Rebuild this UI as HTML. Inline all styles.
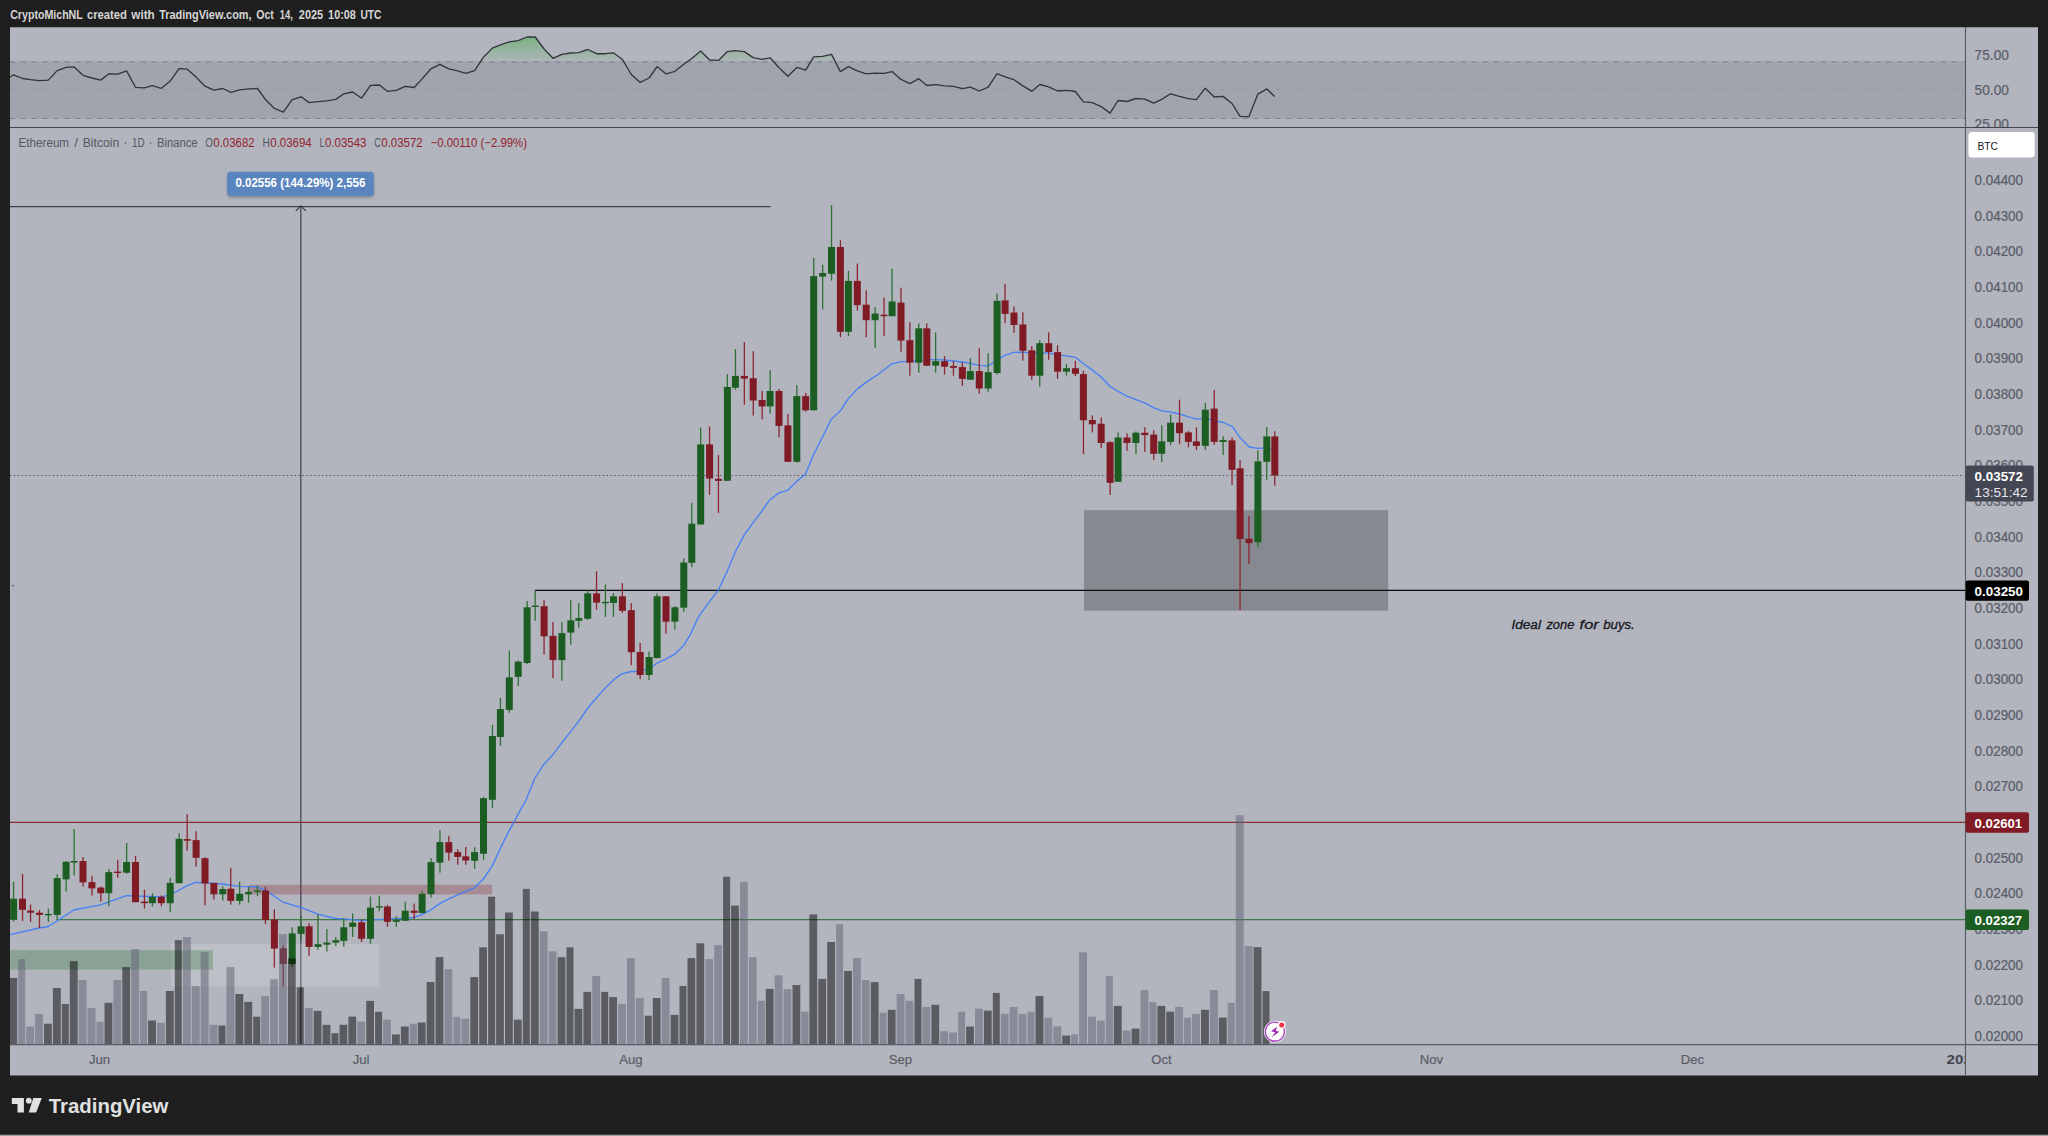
<!DOCTYPE html>
<html lang="en"><head><meta charset="utf-8"><title>ETHBTC chart</title>
<style>html,body{margin:0;padding:0;background:#1f1f1f;}body{width:2048px;height:1136px;overflow:hidden;position:relative;}svg{position:absolute;left:0;top:0;display:block;}text{font-family:"Liberation Sans", sans-serif;}</style>
</head><body>
<svg width="2048" height="1136" viewBox="0 0 2048 1136">
<defs>
<linearGradient id="rsig" x1="0" y1="0" x2="0" y2="1" gradientUnits="userSpaceOnUse" gradientTransform="translate(0,36) scale(1,26)"><stop offset="0" stop-color="#4caf50" stop-opacity="0.56"/><stop offset="1" stop-color="#4caf50" stop-opacity="0.03"/></linearGradient>
<clipPath id="rsiclip"><rect x="10" y="27" width="1955" height="34.8"/></clipPath>
<clipPath id="rsipane"><rect x="10" y="27" width="2028" height="100"/></clipPath>
<clipPath id="mainpane"><rect x="10" y="128" width="1955" height="916.5"/></clipPath>
<clipPath id="timeclip"><rect x="10" y="1045" width="1955" height="30"/></clipPath>
<filter id="sh" x="-10%" y="-30%" width="120%" height="180%"><feGaussianBlur stdDeviation="1.6"/></filter>
</defs>
<rect width="2048" height="1136" fill="#1f1f1f"/>
<rect x="0" y="1134.7" width="2048" height="1.3" fill="#a4a4a4"/>
<rect x="10" y="27" width="2028" height="1048.5" fill="#b2b5be"/>
<rect x="10" y="27" width="2028" height="0.9" fill="#80838d" opacity="0.85"/>
<g clip-path="url(#rsipane)">
<rect x="10" y="61.2" width="1955" height="57.7" fill="#a1a4ad"/>
<line x1="10" y1="62" x2="1965" y2="62" stroke="#888b9a" stroke-width="1.5" stroke-dasharray="4.7 6.21"/>
<line x1="10" y1="89.5" x2="1965" y2="89.5" stroke="#9396a5" stroke-width="0.95" stroke-dasharray="4.7 6.21"/>
<line x1="10" y1="118.5" x2="1965" y2="118.5" stroke="#7b7e8d" stroke-width="1.1" stroke-dasharray="4.7 6.21"/>
<path d="M10.2 77.1 L13.6 74.8 L22.5 78.5 L30.5 79.6 L39.4 80.6 L48.3 80.1 L57.2 70.6 L66.1 67.4 L74.1 66.9 L83 75.3 L91.9 78 L100.8 80.1 L108.8 73.8 L117.7 74.1 L126.6 70.9 L135.5 87.3 L144.4 87.8 L152.4 85.7 L161.3 88.3 L170.2 81.1 L179.1 68.7 L187.2 69.2 L196.1 77.1 L205 86.2 L213.9 90.1 L222.8 88.5 L230.8 92.4 L239.7 89.9 L248.6 88.9 L257.5 88.5 L265.5 99.6 L274.4 108.4 L283.3 112.1 L292.2 99.6 L301.1 96.8 L309.1 102.6 L318 101.7 L326.9 100.8 L335.8 99.4 L343.8 93.8 L352.7 92 L361.6 98.2 L370.5 85.4 L379.4 85 L387.4 91.3 L396.3 90.3 L405.2 86.4 L414.1 87.5 L422.1 78.9 L431 68.8 L439.9 64.3 L448.8 68.8 L457.7 70.9 L465.7 73.4 L474.6 70.6 L483.5 57.2 L492.4 48.1 L500.4 44.9 L509.3 41.9 L518.2 40.7 L527.1 37 L535.2 37 L544.1 49 L553 58.3 L561.9 54.4 L570.8 53 L578.8 52.7 L587.7 49.5 L596.6 53.7 L605.5 53.7 L613.5 52.8 L622.4 59.5 L631.3 74.5 L640.2 82.4 L649.1 78 L657.1 66.6 L666 73.9 L674.9 71.3 L683.8 64.3 L691.8 58.5 L700.7 51.1 L709.6 60 L718.5 60.4 L727.4 51.6 L735.4 50.7 L744.3 51.6 L753.2 57.6 L762.1 59.3 L770.1 57.8 L779 67.8 L787.9 76.2 L796.8 67.4 L805.7 70.1 L813.7 56.9 L822.6 56.4 L831.5 54.4 L840.4 71.6 L848.4 66.7 L857.3 70.9 L866.2 73.8 L875.1 73.1 L884 73.4 L892.1 71.6 L901 79.4 L909.9 83.6 L918.8 78.7 L926.8 85.5 L935.7 84.7 L944.6 85.9 L953.5 86.4 L962.4 88.7 L970.4 87.1 L979.3 91 L988.2 87.1 L997.1 73.6 L1005.1 76.9 L1014 79.7 L1022.9 85.9 L1031.8 91.2 L1039.8 84.5 L1048.7 86.9 L1057.6 91 L1066.5 90.3 L1075.4 91.5 L1083.4 101.9 L1092.3 102.6 L1101.2 106.6 L1110.1 113.1 L1118.1 100.5 L1127 101.5 L1135.9 98.5 L1144.8 99.1 L1153.7 103.1 L1161.7 99.4 L1170.6 93.8 L1179.5 96.4 L1188.4 98.7 L1196.4 99.6 L1205.3 88.2 L1214.2 97 L1223.1 96.4 L1232 103.5 L1240.1 116.3 L1249 116.6 L1257.9 94.1 L1266.8 88.9 L1274.6 96.6 L1274.6 61.8 L10.2 61.8 Z" fill="url(#rsig)" clip-path="url(#rsiclip)"/>
<path d="M10.2 77.1 L13.6 74.8 L22.5 78.5 L30.5 79.6 L39.4 80.6 L48.3 80.1 L57.2 70.6 L66.1 67.4 L74.1 66.9 L83 75.3 L91.9 78 L100.8 80.1 L108.8 73.8 L117.7 74.1 L126.6 70.9 L135.5 87.3 L144.4 87.8 L152.4 85.7 L161.3 88.3 L170.2 81.1 L179.1 68.7 L187.2 69.2 L196.1 77.1 L205 86.2 L213.9 90.1 L222.8 88.5 L230.8 92.4 L239.7 89.9 L248.6 88.9 L257.5 88.5 L265.5 99.6 L274.4 108.4 L283.3 112.1 L292.2 99.6 L301.1 96.8 L309.1 102.6 L318 101.7 L326.9 100.8 L335.8 99.4 L343.8 93.8 L352.7 92 L361.6 98.2 L370.5 85.4 L379.4 85 L387.4 91.3 L396.3 90.3 L405.2 86.4 L414.1 87.5 L422.1 78.9 L431 68.8 L439.9 64.3 L448.8 68.8 L457.7 70.9 L465.7 73.4 L474.6 70.6 L483.5 57.2 L492.4 48.1 L500.4 44.9 L509.3 41.9 L518.2 40.7 L527.1 37 L535.2 37 L544.1 49 L553 58.3 L561.9 54.4 L570.8 53 L578.8 52.7 L587.7 49.5 L596.6 53.7 L605.5 53.7 L613.5 52.8 L622.4 59.5 L631.3 74.5 L640.2 82.4 L649.1 78 L657.1 66.6 L666 73.9 L674.9 71.3 L683.8 64.3 L691.8 58.5 L700.7 51.1 L709.6 60 L718.5 60.4 L727.4 51.6 L735.4 50.7 L744.3 51.6 L753.2 57.6 L762.1 59.3 L770.1 57.8 L779 67.8 L787.9 76.2 L796.8 67.4 L805.7 70.1 L813.7 56.9 L822.6 56.4 L831.5 54.4 L840.4 71.6 L848.4 66.7 L857.3 70.9 L866.2 73.8 L875.1 73.1 L884 73.4 L892.1 71.6 L901 79.4 L909.9 83.6 L918.8 78.7 L926.8 85.5 L935.7 84.7 L944.6 85.9 L953.5 86.4 L962.4 88.7 L970.4 87.1 L979.3 91 L988.2 87.1 L997.1 73.6 L1005.1 76.9 L1014 79.7 L1022.9 85.9 L1031.8 91.2 L1039.8 84.5 L1048.7 86.9 L1057.6 91 L1066.5 90.3 L1075.4 91.5 L1083.4 101.9 L1092.3 102.6 L1101.2 106.6 L1110.1 113.1 L1118.1 100.5 L1127 101.5 L1135.9 98.5 L1144.8 99.1 L1153.7 103.1 L1161.7 99.4 L1170.6 93.8 L1179.5 96.4 L1188.4 98.7 L1196.4 99.6 L1205.3 88.2 L1214.2 97 L1223.1 96.4 L1232 103.5 L1240.1 116.3 L1249 116.6 L1257.9 94.1 L1266.8 88.9 L1274.6 96.6" fill="none" stroke="#33353b" stroke-width="1.35" stroke-linejoin="round"/>
</g>
<g clip-path="url(#mainpane)">
<line x1="10" y1="206.6" x2="770.6" y2="206.6" stroke="#3c404d" stroke-width="1.4"/>
<line x1="300.8" y1="206.6" x2="300.8" y2="1044.5" stroke="#4d505c" stroke-width="1.4"/>
<path d="M295.8 210.9 L300.8 205.9 L305.8 210.9" fill="none" stroke="#3c404d" stroke-width="1.3"/>
<line x1="10" y1="822.4" x2="1965" y2="822.4" stroke="#8c2b37" stroke-width="1.3"/>
<line x1="56.5" y1="919.6" x2="1965" y2="919.6" stroke="#3f7a46" stroke-width="1.3"/>
<rect x="1084" y="510.2" width="304.2" height="100.4" fill="#000000" fill-opacity="0.245"/>
<line x1="535" y1="590.3" x2="1965" y2="590.3" stroke="#0c0c0e" stroke-width="1.25"/>
<rect x="170.7" y="944" width="208.3" height="42.6" fill="#ffffff" fill-opacity="0.15"/>
<rect x="10" y="950.2" width="203" height="19.4" fill="#3f7a46" fill-opacity="0.34"/>
<rect x="249" y="884.8" width="243.2" height="9.6" fill="#8c2b37" fill-opacity="0.30"/>
<path d="M10 934.7 L39.3 928 L48.2 926.5 L57 921 L73.8 910 L100.5 904.8 L126.4 895.6 L135.5 896 L161 896.8 L170 894.8 L173 893.5 L185.8 886.4 L195.4 882.4 L204.5 882.7 L222.3 884 L239.7 886.4 L257.3 886.8 L265.4 890.3 L274.3 896.3 L283.1 902.2 L292 904.9 L300.9 907.4 L317.8 914.1 L335.6 918.5 L343.5 918.8 L361.4 920.7 L387.5 919.1 L405.1 918.2 L414 917.5 L421.9 914.7 L430.8 909.9 L439.7 903.6 L448.7 898.8 L457.6 894.9 L465.5 891.4 L474.5 887.8 L483.4 879 L492.4 865.6 L501.2 846.6 L510 829.1 L520 810.9 L526 800 L534.7 778.5 L543.9 764.2 L552.9 754.7 L561.8 742.8 L570.6 731.7 L578.6 721.4 L587.8 708 L596.5 697.7 L605.2 688.1 L613.9 679.4 L621.8 673.9 L631.3 671.5 L640.2 671.5 L649.1 668.7 L657 663.2 L665.9 659.2 L674.8 654.1 L683.7 645.4 L690 635.1 L698.5 616.7 L709.5 601.6 L718.5 589.8 L727.4 570.7 L735 552.5 L743.7 535.9 L752.4 523.7 L761.1 512.1 L769.5 500.2 L778.6 493.1 L787.7 490.2 L796.8 481.2 L805.5 474.1 L813.6 454.5 L823.1 435.7 L831 419.8 L840.5 410.6 L848.5 398.4 L857.5 388.9 L866.4 382.1 L877.2 375 L891.4 364.2 L900.9 361.6 L910 361.5 L918.9 360.4 L926.7 359.6 L935.7 359.6 L944.5 360 L953.6 361 L962.4 362 L970.5 363.3 L979.4 365.4 L988.4 365.9 L997.3 359.5 L1005.4 355.1 L1014.1 352.4 L1023.1 352.1 L1031.8 353.2 L1039.8 352.7 L1048.6 353.2 L1057.7 354.8 L1066.4 355.9 L1075.4 357.3 L1083.5 363.8 L1092.5 370.1 L1101.4 377.2 L1110.4 386.7 L1118.3 391.5 L1127.2 396.3 L1136.1 399.7 L1145.1 403.1 L1154 407.8 L1161.9 410.8 L1170.8 412.1 L1179.6 414 L1188.5 416.9 L1196.4 419.2 L1205.5 418.4 L1214.5 420.5 L1223.4 422.5 L1232.4 426.7 L1240.3 437.9 L1249.2 447 L1258 448.4 L1266.7 447.9 L1271.2 448.8" fill="none" stroke="#4680f4" stroke-width="1.35" stroke-linejoin="round"/>
<rect x="12.9" y="881.8" width="1.3" height="39.6" fill="#2f7035"/>
<rect x="10.1" y="898.7" width="7" height="21.1" fill="#1c5e21"/>
<rect x="21.9" y="873.9" width="1.3" height="47" fill="#8c2631"/>
<rect x="19" y="898.7" width="7" height="11.1" fill="#801a24"/>
<rect x="29.9" y="904.6" width="1.3" height="17.4" fill="#8c2631"/>
<rect x="27" y="910.6" width="7" height="2.1" fill="#801a24"/>
<rect x="38.8" y="910.1" width="1.3" height="17.9" fill="#8c2631"/>
<rect x="35.9" y="912.7" width="7" height="2.2" fill="#801a24"/>
<rect x="47.7" y="908.6" width="1.3" height="13.4" fill="#2f7035"/>
<rect x="44.8" y="913.9" width="7" height="1.4" fill="#1c5e21"/>
<rect x="56.6" y="874.2" width="1.3" height="45.9" fill="#2f7035"/>
<rect x="53.7" y="878.1" width="7" height="36.8" fill="#1c5e21"/>
<rect x="65.5" y="861" width="1.3" height="30.6" fill="#2f7035"/>
<rect x="62.6" y="861.8" width="7" height="17.6" fill="#1c5e21"/>
<rect x="73.5" y="829" width="1.3" height="46.4" fill="#2f7035"/>
<rect x="70.6" y="861" width="7" height="1.6" fill="#1c5e21"/>
<rect x="82.4" y="857" width="1.3" height="29.5" fill="#8c2631"/>
<rect x="79.5" y="861" width="7" height="21.4" fill="#801a24"/>
<rect x="91.3" y="875.8" width="1.3" height="19.8" fill="#8c2631"/>
<rect x="88.4" y="882.1" width="7" height="6.3" fill="#801a24"/>
<rect x="100.2" y="886.5" width="1.3" height="15.1" fill="#8c2631"/>
<rect x="97.3" y="887.6" width="7" height="5.6" fill="#801a24"/>
<rect x="108.2" y="869" width="1.3" height="37.3" fill="#2f7035"/>
<rect x="105.3" y="872.1" width="7" height="21.1" fill="#1c5e21"/>
<rect x="117.1" y="859.9" width="1.3" height="17.9" fill="#8c2631"/>
<rect x="114.2" y="871.6" width="7" height="1.4" fill="#801a24"/>
<rect x="126" y="843" width="1.3" height="30.7" fill="#2f7035"/>
<rect x="123.1" y="862" width="7" height="10.7" fill="#1c5e21"/>
<rect x="134.9" y="856" width="1.3" height="46.2" fill="#8c2631"/>
<rect x="132" y="862" width="7" height="40.2" fill="#801a24"/>
<rect x="143.8" y="889.7" width="1.3" height="18.9" fill="#8c2631"/>
<rect x="140.9" y="901.6" width="7" height="1.6" fill="#801a24"/>
<rect x="151.8" y="893.2" width="1.3" height="13.1" fill="#2f7035"/>
<rect x="148.9" y="896.8" width="7" height="6.4" fill="#1c5e21"/>
<rect x="160.7" y="895.6" width="1.3" height="10.7" fill="#8c2631"/>
<rect x="157.8" y="896.8" width="7" height="6.4" fill="#801a24"/>
<rect x="169.6" y="877.8" width="1.3" height="34.4" fill="#2f7035"/>
<rect x="166.7" y="882.9" width="7" height="20.3" fill="#1c5e21"/>
<rect x="178.5" y="833.3" width="1.3" height="49.9" fill="#2f7035"/>
<rect x="175.6" y="838.8" width="7" height="44.4" fill="#1c5e21"/>
<rect x="186.5" y="814.3" width="1.3" height="36.4" fill="#8c2631"/>
<rect x="183.7" y="839.1" width="7" height="1.6" fill="#801a24"/>
<rect x="195.4" y="831.2" width="1.3" height="35.4" fill="#8c2631"/>
<rect x="192.6" y="840.1" width="7" height="17.7" fill="#801a24"/>
<rect x="204.3" y="857" width="1.3" height="48.4" fill="#8c2631"/>
<rect x="201.5" y="858.2" width="7" height="25.3" fill="#801a24"/>
<rect x="213.2" y="882.9" width="1.3" height="16.6" fill="#8c2631"/>
<rect x="210.4" y="882.9" width="7" height="11.4" fill="#801a24"/>
<rect x="222.1" y="886.4" width="1.3" height="14.2" fill="#2f7035"/>
<rect x="219.3" y="889" width="7" height="5.3" fill="#1c5e21"/>
<rect x="230.1" y="867.8" width="1.3" height="36.8" fill="#8c2631"/>
<rect x="227.3" y="888.7" width="7" height="12.2" fill="#801a24"/>
<rect x="239" y="881.6" width="1.3" height="23" fill="#2f7035"/>
<rect x="236.2" y="893.8" width="7" height="7.1" fill="#1c5e21"/>
<rect x="247.9" y="886.8" width="1.3" height="15.9" fill="#2f7035"/>
<rect x="245.1" y="891.9" width="7" height="2.4" fill="#1c5e21"/>
<rect x="256.8" y="885.6" width="1.3" height="10.7" fill="#2f7035"/>
<rect x="254" y="890.4" width="7" height="1.4" fill="#1c5e21"/>
<rect x="264.8" y="886.8" width="1.3" height="37.3" fill="#8c2631"/>
<rect x="262" y="890.6" width="7" height="29.4" fill="#801a24"/>
<rect x="273.7" y="909.3" width="1.3" height="58.3" fill="#8c2631"/>
<rect x="270.9" y="919.6" width="7" height="29" fill="#801a24"/>
<rect x="282.6" y="945" width="1.3" height="41.7" fill="#8c2631"/>
<rect x="279.8" y="948.2" width="7" height="15.8" fill="#801a24"/>
<rect x="291.5" y="927.2" width="1.3" height="39.5" fill="#2f7035"/>
<rect x="288.7" y="933.4" width="7" height="30.6" fill="#1c5e21"/>
<rect x="300.4" y="915.7" width="1.3" height="24.5" fill="#2f7035"/>
<rect x="297.6" y="926.3" width="7" height="7.6" fill="#1c5e21"/>
<rect x="308.4" y="923.1" width="1.3" height="32.7" fill="#8c2631"/>
<rect x="305.6" y="926.3" width="7" height="20.6" fill="#801a24"/>
<rect x="317.3" y="914.4" width="1.3" height="35.3" fill="#2f7035"/>
<rect x="314.5" y="944.2" width="7" height="2.7" fill="#1c5e21"/>
<rect x="326.2" y="929.1" width="1.3" height="22.5" fill="#2f7035"/>
<rect x="323.4" y="942.6" width="7" height="2.1" fill="#1c5e21"/>
<rect x="335.1" y="937" width="1.3" height="8.8" fill="#2f7035"/>
<rect x="332.3" y="940.2" width="7" height="2.4" fill="#1c5e21"/>
<rect x="343.1" y="918.4" width="1.3" height="28.3" fill="#2f7035"/>
<rect x="340.3" y="927.3" width="7" height="13.5" fill="#1c5e21"/>
<rect x="352" y="913.4" width="1.3" height="23.5" fill="#2f7035"/>
<rect x="349.2" y="922.6" width="7" height="4.3" fill="#1c5e21"/>
<rect x="360.9" y="920.2" width="1.3" height="21.8" fill="#8c2631"/>
<rect x="358.1" y="922.3" width="7" height="16.5" fill="#801a24"/>
<rect x="369.8" y="896.5" width="1.3" height="47.2" fill="#2f7035"/>
<rect x="367" y="907.6" width="7" height="31.2" fill="#1c5e21"/>
<rect x="378.7" y="895.7" width="1.3" height="15.5" fill="#2f7035"/>
<rect x="375.9" y="906.3" width="7" height="1.3" fill="#1c5e21"/>
<rect x="386.8" y="904.9" width="1.3" height="22" fill="#8c2631"/>
<rect x="383.9" y="906.5" width="7" height="15.3" fill="#801a24"/>
<rect x="395.7" y="916.3" width="1.3" height="10.6" fill="#2f7035"/>
<rect x="392.8" y="919.9" width="7" height="1.9" fill="#1c5e21"/>
<rect x="404.6" y="901.7" width="1.3" height="19" fill="#2f7035"/>
<rect x="401.7" y="910.7" width="7" height="10" fill="#1c5e21"/>
<rect x="413.5" y="903.6" width="1.3" height="15.8" fill="#8c2631"/>
<rect x="410.6" y="910.7" width="7" height="2.1" fill="#801a24"/>
<rect x="421.5" y="890.9" width="1.3" height="22.2" fill="#2f7035"/>
<rect x="418.6" y="893.8" width="7" height="19.3" fill="#1c5e21"/>
<rect x="430.4" y="858.1" width="1.3" height="39.5" fill="#2f7035"/>
<rect x="427.5" y="862.1" width="7" height="32" fill="#1c5e21"/>
<rect x="439.3" y="830.2" width="1.3" height="42.5" fill="#2f7035"/>
<rect x="436.4" y="842.1" width="7" height="20.6" fill="#1c5e21"/>
<rect x="448.2" y="835.9" width="1.3" height="24.9" fill="#8c2631"/>
<rect x="445.3" y="842.1" width="7" height="10.5" fill="#801a24"/>
<rect x="457.1" y="849.2" width="1.3" height="15.6" fill="#8c2631"/>
<rect x="454.2" y="852.1" width="7" height="4.8" fill="#801a24"/>
<rect x="465.1" y="847" width="1.3" height="17.8" fill="#8c2631"/>
<rect x="462.2" y="856.4" width="7" height="4.1" fill="#801a24"/>
<rect x="474" y="847.3" width="1.3" height="21.4" fill="#2f7035"/>
<rect x="471.1" y="852.1" width="7" height="8.7" fill="#1c5e21"/>
<rect x="482.9" y="797.1" width="1.3" height="62.6" fill="#2f7035"/>
<rect x="480" y="798.2" width="7" height="55.5" fill="#1c5e21"/>
<rect x="491.8" y="724.9" width="1.3" height="83.3" fill="#2f7035"/>
<rect x="488.9" y="736" width="7" height="63.8" fill="#1c5e21"/>
<rect x="499.8" y="698.1" width="1.3" height="47.9" fill="#2f7035"/>
<rect x="496.9" y="709.1" width="7" height="27.9" fill="#1c5e21"/>
<rect x="508.7" y="650.6" width="1.3" height="62.1" fill="#2f7035"/>
<rect x="505.8" y="677.4" width="7" height="32.5" fill="#1c5e21"/>
<rect x="517.6" y="660.4" width="1.3" height="25.6" fill="#2f7035"/>
<rect x="514.7" y="661.6" width="7" height="15.3" fill="#1c5e21"/>
<rect x="526.5" y="601" width="1.3" height="63" fill="#2f7035"/>
<rect x="523.6" y="607.3" width="7" height="55.7" fill="#1c5e21"/>
<rect x="534.5" y="590.4" width="1.3" height="30.4" fill="#2f7035"/>
<rect x="531.7" y="605.6" width="7" height="1.4" fill="#1c5e21"/>
<rect x="543.4" y="600.2" width="1.3" height="54.2" fill="#8c2631"/>
<rect x="540.6" y="606.2" width="7" height="30.1" fill="#801a24"/>
<rect x="552.3" y="622" width="1.3" height="56.2" fill="#8c2631"/>
<rect x="549.5" y="635.9" width="7" height="24.2" fill="#801a24"/>
<rect x="561.2" y="622" width="1.3" height="58.8" fill="#2f7035"/>
<rect x="558.4" y="633.1" width="7" height="27" fill="#1c5e21"/>
<rect x="570.1" y="600.2" width="1.3" height="44.4" fill="#2f7035"/>
<rect x="567.3" y="620.3" width="7" height="12.3" fill="#1c5e21"/>
<rect x="578.1" y="603.1" width="1.3" height="24.5" fill="#2f7035"/>
<rect x="575.3" y="618.1" width="7" height="2.7" fill="#1c5e21"/>
<rect x="587" y="590.4" width="1.3" height="29.3" fill="#2f7035"/>
<rect x="584.2" y="593.4" width="7" height="25.4" fill="#1c5e21"/>
<rect x="595.9" y="571.2" width="1.3" height="38.5" fill="#8c2631"/>
<rect x="593.1" y="593.4" width="7" height="9.2" fill="#801a24"/>
<rect x="604.8" y="584.4" width="1.3" height="32.5" fill="#2f7035"/>
<rect x="602" y="601.9" width="7" height="1.4" fill="#1c5e21"/>
<rect x="612.8" y="593.1" width="1.3" height="23.8" fill="#2f7035"/>
<rect x="610" y="596.3" width="7" height="6.6" fill="#1c5e21"/>
<rect x="621.7" y="583.1" width="1.3" height="29.8" fill="#8c2631"/>
<rect x="618.9" y="596.3" width="7" height="14.5" fill="#801a24"/>
<rect x="630.6" y="603.1" width="1.3" height="62.2" fill="#8c2631"/>
<rect x="627.8" y="610.2" width="7" height="42" fill="#801a24"/>
<rect x="639.5" y="643" width="1.3" height="36.1" fill="#8c2631"/>
<rect x="636.7" y="652" width="7" height="23" fill="#801a24"/>
<rect x="648.4" y="651.6" width="1.3" height="28.6" fill="#2f7035"/>
<rect x="645.6" y="657" width="7" height="18" fill="#1c5e21"/>
<rect x="656.4" y="593.4" width="1.3" height="64.7" fill="#2f7035"/>
<rect x="653.6" y="596.3" width="7" height="61.8" fill="#1c5e21"/>
<rect x="665.3" y="596.3" width="1.3" height="37.2" fill="#8c2631"/>
<rect x="662.5" y="596.3" width="7" height="25.3" fill="#801a24"/>
<rect x="674.2" y="606.2" width="1.3" height="23.3" fill="#2f7035"/>
<rect x="671.4" y="607.3" width="7" height="14.3" fill="#1c5e21"/>
<rect x="683.1" y="558.3" width="1.3" height="53.5" fill="#2f7035"/>
<rect x="680.3" y="562.5" width="7" height="45.2" fill="#1c5e21"/>
<rect x="691.1" y="502.9" width="1.3" height="64.3" fill="#2f7035"/>
<rect x="688.3" y="523.7" width="7" height="39.1" fill="#1c5e21"/>
<rect x="700" y="427.4" width="1.3" height="97.1" fill="#2f7035"/>
<rect x="697.2" y="444.4" width="7" height="80.1" fill="#1c5e21"/>
<rect x="708.9" y="426.5" width="1.3" height="68.4" fill="#8c2631"/>
<rect x="706.1" y="444.4" width="7" height="34.1" fill="#801a24"/>
<rect x="717.8" y="455.1" width="1.3" height="57.8" fill="#8c2631"/>
<rect x="715" y="478.9" width="7" height="2" fill="#801a24"/>
<rect x="726.7" y="374.2" width="1.3" height="106.6" fill="#2f7035"/>
<rect x="723.9" y="387" width="7" height="93.8" fill="#1c5e21"/>
<rect x="734.8" y="349" width="1.3" height="40.7" fill="#2f7035"/>
<rect x="731.9" y="375.9" width="7" height="11.8" fill="#1c5e21"/>
<rect x="743.7" y="342.2" width="1.3" height="62.6" fill="#8c2631"/>
<rect x="740.8" y="375.9" width="7" height="2.7" fill="#801a24"/>
<rect x="752.6" y="351.2" width="1.3" height="64.4" fill="#8c2631"/>
<rect x="749.7" y="378.2" width="7" height="22.3" fill="#801a24"/>
<rect x="761.5" y="390.8" width="1.3" height="28.6" fill="#8c2631"/>
<rect x="758.6" y="400" width="7" height="6.4" fill="#801a24"/>
<rect x="769.5" y="370.2" width="1.3" height="43.3" fill="#2f7035"/>
<rect x="766.6" y="391" width="7" height="15.4" fill="#1c5e21"/>
<rect x="778.4" y="388.9" width="1.3" height="48.4" fill="#8c2631"/>
<rect x="775.5" y="391" width="7" height="34.9" fill="#801a24"/>
<rect x="787.3" y="413.8" width="1.3" height="48" fill="#8c2631"/>
<rect x="784.4" y="425.4" width="7" height="36.4" fill="#801a24"/>
<rect x="796.2" y="385" width="1.3" height="77.6" fill="#2f7035"/>
<rect x="793.3" y="396.1" width="7" height="65.7" fill="#1c5e21"/>
<rect x="805.1" y="392.9" width="1.3" height="18.7" fill="#8c2631"/>
<rect x="802.2" y="396.1" width="7" height="14.2" fill="#801a24"/>
<rect x="813.1" y="257.9" width="1.3" height="152.4" fill="#2f7035"/>
<rect x="810.2" y="276.1" width="7" height="134.2" fill="#1c5e21"/>
<rect x="822" y="264.7" width="1.3" height="44.7" fill="#2f7035"/>
<rect x="819.1" y="273" width="7" height="3.6" fill="#1c5e21"/>
<rect x="830.9" y="205" width="1.3" height="75.6" fill="#2f7035"/>
<rect x="828" y="247" width="7" height="26.8" fill="#1c5e21"/>
<rect x="839.8" y="240.2" width="1.3" height="97" fill="#8c2631"/>
<rect x="836.9" y="247" width="7" height="84.8" fill="#801a24"/>
<rect x="847.8" y="270.8" width="1.3" height="65.2" fill="#2f7035"/>
<rect x="844.9" y="280.9" width="7" height="50.9" fill="#1c5e21"/>
<rect x="856.7" y="263.6" width="1.3" height="46.8" fill="#8c2631"/>
<rect x="853.8" y="280.9" width="7" height="24.2" fill="#801a24"/>
<rect x="865.6" y="290.4" width="1.3" height="46.8" fill="#8c2631"/>
<rect x="862.7" y="304.7" width="7" height="15.5" fill="#801a24"/>
<rect x="874.5" y="307.2" width="1.3" height="40.7" fill="#2f7035"/>
<rect x="871.6" y="313.5" width="7" height="6.7" fill="#1c5e21"/>
<rect x="883.4" y="297.5" width="1.3" height="38.5" fill="#8c2631"/>
<rect x="880.5" y="314.7" width="7" height="1.5" fill="#801a24"/>
<rect x="891.4" y="268.7" width="1.3" height="47.5" fill="#2f7035"/>
<rect x="888.6" y="301.5" width="7" height="14.7" fill="#1c5e21"/>
<rect x="900.3" y="287.7" width="1.3" height="64" fill="#8c2631"/>
<rect x="897.5" y="302.6" width="7" height="38" fill="#801a24"/>
<rect x="909.2" y="322.3" width="1.3" height="53.4" fill="#8c2631"/>
<rect x="906.4" y="340.2" width="7" height="22.5" fill="#801a24"/>
<rect x="918.1" y="323.4" width="1.3" height="49.3" fill="#2f7035"/>
<rect x="915.3" y="328.3" width="7" height="34.4" fill="#1c5e21"/>
<rect x="926.1" y="323.4" width="1.3" height="42.3" fill="#8c2631"/>
<rect x="923.3" y="328.3" width="7" height="37.4" fill="#801a24"/>
<rect x="935" y="332.3" width="1.3" height="40.3" fill="#2f7035"/>
<rect x="932.2" y="361.2" width="7" height="4.5" fill="#1c5e21"/>
<rect x="943.9" y="356.1" width="1.3" height="18.5" fill="#8c2631"/>
<rect x="941.1" y="361.2" width="7" height="5.5" fill="#801a24"/>
<rect x="952.8" y="361.2" width="1.3" height="14.5" fill="#8c2631"/>
<rect x="950" y="366" width="7" height="1.8" fill="#801a24"/>
<rect x="961.7" y="362.3" width="1.3" height="23.7" fill="#8c2631"/>
<rect x="958.9" y="367.1" width="7" height="11.8" fill="#801a24"/>
<rect x="969.7" y="358" width="1.3" height="21.7" fill="#2f7035"/>
<rect x="966.9" y="371.1" width="7" height="8.6" fill="#1c5e21"/>
<rect x="978.6" y="348.1" width="1.3" height="45.5" fill="#8c2631"/>
<rect x="975.8" y="371.1" width="7" height="17.4" fill="#801a24"/>
<rect x="987.5" y="353.2" width="1.3" height="38.5" fill="#2f7035"/>
<rect x="984.7" y="372.2" width="7" height="16.3" fill="#1c5e21"/>
<rect x="996.4" y="293.5" width="1.3" height="81.1" fill="#2f7035"/>
<rect x="993.6" y="300.9" width="7" height="72.1" fill="#1c5e21"/>
<rect x="1004.4" y="283.8" width="1.3" height="39.3" fill="#8c2631"/>
<rect x="1001.6" y="300.4" width="7" height="13.5" fill="#801a24"/>
<rect x="1013.3" y="306.4" width="1.3" height="26.5" fill="#8c2631"/>
<rect x="1010.5" y="312.5" width="7" height="12.5" fill="#801a24"/>
<rect x="1022.2" y="312.3" width="1.3" height="48.3" fill="#8c2631"/>
<rect x="1019.4" y="324.4" width="7" height="26.4" fill="#801a24"/>
<rect x="1031.1" y="346.1" width="1.3" height="33.6" fill="#8c2631"/>
<rect x="1028.3" y="350.3" width="7" height="25.4" fill="#801a24"/>
<rect x="1039.1" y="340" width="1.3" height="46.8" fill="#2f7035"/>
<rect x="1036.3" y="343.2" width="7" height="32.5" fill="#1c5e21"/>
<rect x="1048" y="332.3" width="1.3" height="27.5" fill="#8c2631"/>
<rect x="1045.2" y="343.2" width="7" height="8.7" fill="#801a24"/>
<rect x="1056.9" y="345.3" width="1.3" height="33.6" fill="#8c2631"/>
<rect x="1054.1" y="352.1" width="7" height="19.6" fill="#801a24"/>
<rect x="1065.8" y="364.3" width="1.3" height="11.4" fill="#2f7035"/>
<rect x="1063" y="368.2" width="7" height="3.5" fill="#1c5e21"/>
<rect x="1074.7" y="361" width="1.3" height="15" fill="#8c2631"/>
<rect x="1071.9" y="368.2" width="7" height="5.6" fill="#801a24"/>
<rect x="1082.8" y="370.9" width="1.3" height="83.2" fill="#8c2631"/>
<rect x="1079.9" y="374.1" width="7" height="46.2" fill="#801a24"/>
<rect x="1091.7" y="415.3" width="1.3" height="17.1" fill="#8c2631"/>
<rect x="1088.8" y="420" width="7" height="4.3" fill="#801a24"/>
<rect x="1100.6" y="417.3" width="1.3" height="30.9" fill="#8c2631"/>
<rect x="1097.7" y="423.7" width="7" height="19.3" fill="#801a24"/>
<rect x="1109.5" y="441.4" width="1.3" height="53.6" fill="#8c2631"/>
<rect x="1106.6" y="442.2" width="7" height="40.7" fill="#801a24"/>
<rect x="1117.5" y="432.4" width="1.3" height="49.4" fill="#2f7035"/>
<rect x="1114.6" y="437.5" width="7" height="44.3" fill="#1c5e21"/>
<rect x="1126.4" y="433.2" width="1.3" height="17.7" fill="#8c2631"/>
<rect x="1123.5" y="437.5" width="7" height="5.5" fill="#801a24"/>
<rect x="1135.3" y="431.4" width="1.3" height="22.7" fill="#2f7035"/>
<rect x="1132.4" y="432.7" width="7" height="10.3" fill="#1c5e21"/>
<rect x="1144.2" y="427.2" width="1.3" height="24.8" fill="#8c2631"/>
<rect x="1141.3" y="432.7" width="7" height="2.4" fill="#801a24"/>
<rect x="1153.1" y="430.3" width="1.3" height="29.7" fill="#8c2631"/>
<rect x="1150.2" y="434.6" width="7" height="19.2" fill="#801a24"/>
<rect x="1161.1" y="425.3" width="1.3" height="36.7" fill="#2f7035"/>
<rect x="1158.2" y="441.4" width="7" height="12.4" fill="#1c5e21"/>
<rect x="1170" y="414.5" width="1.3" height="30.6" fill="#2f7035"/>
<rect x="1167.1" y="422.7" width="7" height="19.2" fill="#1c5e21"/>
<rect x="1178.9" y="399.7" width="1.3" height="44.4" fill="#8c2631"/>
<rect x="1176" y="422.7" width="7" height="10.5" fill="#801a24"/>
<rect x="1187.8" y="431.1" width="1.3" height="16.2" fill="#8c2631"/>
<rect x="1184.9" y="432.4" width="7" height="9.5" fill="#801a24"/>
<rect x="1195.8" y="427.2" width="1.3" height="22.9" fill="#8c2631"/>
<rect x="1192.9" y="441.4" width="7" height="4.5" fill="#801a24"/>
<rect x="1204.7" y="402.9" width="1.3" height="47" fill="#2f7035"/>
<rect x="1201.8" y="409.7" width="7" height="36.1" fill="#1c5e21"/>
<rect x="1213.6" y="389.9" width="1.3" height="55.1" fill="#8c2631"/>
<rect x="1210.7" y="408.6" width="7" height="33.3" fill="#801a24"/>
<rect x="1222.5" y="436.3" width="1.3" height="18.7" fill="#2f7035"/>
<rect x="1219.6" y="440.1" width="7" height="1.9" fill="#1c5e21"/>
<rect x="1231.4" y="437.5" width="1.3" height="47.5" fill="#8c2631"/>
<rect x="1228.5" y="440.4" width="7" height="29.4" fill="#801a24"/>
<rect x="1239.4" y="460" width="1.3" height="150" fill="#8c2631"/>
<rect x="1236.6" y="468.3" width="7" height="70.7" fill="#801a24"/>
<rect x="1248.3" y="515.7" width="1.3" height="48.3" fill="#8c2631"/>
<rect x="1245.5" y="538.8" width="7" height="4.3" fill="#801a24"/>
<rect x="1257.2" y="450.3" width="1.3" height="97" fill="#2f7035"/>
<rect x="1254.4" y="461.4" width="7" height="80.8" fill="#1c5e21"/>
<rect x="1266.1" y="427.2" width="1.3" height="52.7" fill="#2f7035"/>
<rect x="1263.3" y="436.4" width="7" height="25.4" fill="#1c5e21"/>
<rect x="1274.1" y="431.3" width="1.3" height="54.5" fill="#8c2631"/>
<rect x="1271.3" y="436.4" width="7" height="39.2" fill="#801a24"/>
<line x1="10" y1="475.5" x2="1964" y2="475.5" stroke="#4a4d57" stroke-width="1" stroke-dasharray="1.3 2.6"/>
<rect x="9.3" y="978" width="7.9" height="66.5" fill="rgba(0,0,0,0.49)"/>
<rect x="18.2" y="959.1" width="7" height="85.4" fill="rgba(98,99,116,0.52)"/>
<rect x="26.2" y="1026.5" width="7.9" height="18" fill="rgba(98,99,116,0.52)"/>
<rect x="35.1" y="1013.8" width="7.8" height="30.7" fill="rgba(98,99,116,0.52)"/>
<rect x="44" y="1023.7" width="7.8" height="20.8" fill="rgba(0,0,0,0.49)"/>
<rect x="52.9" y="988" width="7.9" height="56.5" fill="rgba(0,0,0,0.49)"/>
<rect x="61.8" y="1004" width="7" height="40.5" fill="rgba(0,0,0,0.49)"/>
<rect x="69.8" y="961.1" width="7.9" height="83.4" fill="rgba(0,0,0,0.49)"/>
<rect x="78.7" y="980.1" width="7.9" height="64.4" fill="rgba(98,99,116,0.52)"/>
<rect x="87.6" y="1007.9" width="7.9" height="36.6" fill="rgba(98,99,116,0.52)"/>
<rect x="96.5" y="1021.8" width="7" height="22.7" fill="rgba(98,99,116,0.52)"/>
<rect x="104.5" y="1002.8" width="7.9" height="41.7" fill="rgba(0,0,0,0.49)"/>
<rect x="113.4" y="980.1" width="7.9" height="64.4" fill="rgba(98,99,116,0.52)"/>
<rect x="122.3" y="967.1" width="7.8" height="77.4" fill="rgba(0,0,0,0.49)"/>
<rect x="131.2" y="949.1" width="7.9" height="95.4" fill="rgba(98,99,116,0.52)"/>
<rect x="140.1" y="991" width="7" height="53.5" fill="rgba(98,99,116,0.52)"/>
<rect x="148.1" y="1020.5" width="7.9" height="24" fill="rgba(0,0,0,0.49)"/>
<rect x="157" y="1022.8" width="7.9" height="21.7" fill="rgba(98,99,116,0.52)"/>
<rect x="165.9" y="991" width="7.9" height="53.5" fill="rgba(0,0,0,0.49)"/>
<rect x="174.8" y="940.1" width="7" height="104.4" fill="rgba(0,0,0,0.49)"/>
<rect x="182.9" y="937.1" width="7.9" height="107.4" fill="rgba(98,99,116,0.52)"/>
<rect x="191.8" y="986.1" width="7.9" height="58.4" fill="rgba(98,99,116,0.52)"/>
<rect x="200.7" y="952.1" width="7.9" height="92.4" fill="rgba(98,99,116,0.52)"/>
<rect x="209.6" y="1024.8" width="7.9" height="19.7" fill="rgba(98,99,116,0.52)"/>
<rect x="218.5" y="1025.5" width="7" height="19" fill="rgba(0,0,0,0.49)"/>
<rect x="226.5" y="967.1" width="7.9" height="77.4" fill="rgba(98,99,116,0.52)"/>
<rect x="235.4" y="994" width="7.9" height="50.5" fill="rgba(0,0,0,0.49)"/>
<rect x="244.3" y="1001.9" width="7.9" height="42.6" fill="rgba(0,0,0,0.49)"/>
<rect x="253.2" y="1016.7" width="7" height="27.8" fill="rgba(0,0,0,0.49)"/>
<rect x="261.2" y="996.1" width="7.8" height="48.4" fill="rgba(98,99,116,0.52)"/>
<rect x="270.1" y="979.2" width="7.8" height="65.3" fill="rgba(98,99,116,0.52)"/>
<rect x="279" y="934.1" width="7.8" height="110.4" fill="rgba(98,99,116,0.52)"/>
<rect x="287.9" y="958.3" width="7.8" height="86.2" fill="rgba(0,0,0,0.49)"/>
<rect x="296.8" y="987.3" width="7" height="57.2" fill="rgba(0,0,0,0.49)"/>
<rect x="304.8" y="1007.9" width="7.8" height="36.6" fill="rgba(98,99,116,0.52)"/>
<rect x="313.7" y="1010.9" width="7.8" height="33.6" fill="rgba(0,0,0,0.49)"/>
<rect x="322.6" y="1024.8" width="7.8" height="19.7" fill="rgba(0,0,0,0.49)"/>
<rect x="331.5" y="1033.2" width="7" height="11.3" fill="rgba(0,0,0,0.49)"/>
<rect x="339.5" y="1024.8" width="7.8" height="19.7" fill="rgba(0,0,0,0.49)"/>
<rect x="348.4" y="1016.6" width="7.8" height="27.9" fill="rgba(0,0,0,0.49)"/>
<rect x="357.3" y="1021.6" width="7.8" height="22.9" fill="rgba(98,99,116,0.52)"/>
<rect x="366.2" y="1000.9" width="7.8" height="43.6" fill="rgba(0,0,0,0.49)"/>
<rect x="375.1" y="1011.8" width="7" height="32.7" fill="rgba(0,0,0,0.49)"/>
<rect x="383.1" y="1019.7" width="7.8" height="24.8" fill="rgba(98,99,116,0.52)"/>
<rect x="392" y="1034.4" width="7.8" height="10.1" fill="rgba(0,0,0,0.49)"/>
<rect x="400.9" y="1026.5" width="7.8" height="18" fill="rgba(0,0,0,0.49)"/>
<rect x="409.8" y="1023.7" width="7" height="20.8" fill="rgba(98,99,116,0.52)"/>
<rect x="417.8" y="1022.5" width="7.8" height="22" fill="rgba(0,0,0,0.49)"/>
<rect x="426.7" y="982" width="7.8" height="62.5" fill="rgba(0,0,0,0.49)"/>
<rect x="435.6" y="957.1" width="7.8" height="87.4" fill="rgba(0,0,0,0.49)"/>
<rect x="444.5" y="969.2" width="7.8" height="75.3" fill="rgba(98,99,116,0.52)"/>
<rect x="453.4" y="1016.8" width="7" height="27.7" fill="rgba(98,99,116,0.52)"/>
<rect x="461.4" y="1018.7" width="7.8" height="25.8" fill="rgba(98,99,116,0.52)"/>
<rect x="470.3" y="977.1" width="7.8" height="67.4" fill="rgba(0,0,0,0.49)"/>
<rect x="479.2" y="947.3" width="7.8" height="97.2" fill="rgba(0,0,0,0.49)"/>
<rect x="488.1" y="896.7" width="7" height="147.8" fill="rgba(0,0,0,0.49)"/>
<rect x="496.1" y="934.3" width="7.8" height="110.2" fill="rgba(0,0,0,0.49)"/>
<rect x="505" y="912.5" width="7.8" height="132" fill="rgba(0,0,0,0.49)"/>
<rect x="513.9" y="1019.7" width="7.8" height="24.8" fill="rgba(0,0,0,0.49)"/>
<rect x="522.8" y="888.9" width="7" height="155.6" fill="rgba(0,0,0,0.49)"/>
<rect x="530.9" y="911.5" width="7.8" height="133" fill="rgba(0,0,0,0.49)"/>
<rect x="539.8" y="931.3" width="7.8" height="113.2" fill="rgba(98,99,116,0.52)"/>
<rect x="548.7" y="951.3" width="7.8" height="93.2" fill="rgba(98,99,116,0.52)"/>
<rect x="557.6" y="957.2" width="7.8" height="87.3" fill="rgba(0,0,0,0.49)"/>
<rect x="566.5" y="947.3" width="7" height="97.2" fill="rgba(0,0,0,0.49)"/>
<rect x="574.5" y="1008.9" width="7.8" height="35.6" fill="rgba(0,0,0,0.49)"/>
<rect x="583.4" y="991.9" width="7.8" height="52.6" fill="rgba(0,0,0,0.49)"/>
<rect x="592.3" y="976.1" width="7.8" height="68.4" fill="rgba(98,99,116,0.52)"/>
<rect x="601.2" y="991.9" width="7" height="52.6" fill="rgba(0,0,0,0.49)"/>
<rect x="609.2" y="997.1" width="7.8" height="47.4" fill="rgba(0,0,0,0.49)"/>
<rect x="618.1" y="1003.9" width="7.8" height="40.6" fill="rgba(98,99,116,0.52)"/>
<rect x="627" y="958.1" width="7.8" height="86.4" fill="rgba(98,99,116,0.52)"/>
<rect x="635.9" y="998" width="7.8" height="46.5" fill="rgba(98,99,116,0.52)"/>
<rect x="644.8" y="1015.7" width="7" height="28.8" fill="rgba(0,0,0,0.49)"/>
<rect x="652.8" y="998" width="7.8" height="46.5" fill="rgba(0,0,0,0.49)"/>
<rect x="661.7" y="978" width="7.8" height="66.5" fill="rgba(98,99,116,0.52)"/>
<rect x="670.6" y="1014.9" width="7.8" height="29.6" fill="rgba(0,0,0,0.49)"/>
<rect x="679.5" y="986" width="7" height="58.5" fill="rgba(0,0,0,0.49)"/>
<rect x="687.5" y="958.1" width="7.8" height="86.4" fill="rgba(0,0,0,0.49)"/>
<rect x="696.4" y="943.3" width="7.8" height="101.2" fill="rgba(0,0,0,0.49)"/>
<rect x="705.3" y="959.1" width="7.8" height="85.4" fill="rgba(98,99,116,0.52)"/>
<rect x="714.2" y="945.1" width="7.8" height="99.4" fill="rgba(98,99,116,0.52)"/>
<rect x="723.1" y="876.7" width="7" height="167.8" fill="rgba(0,0,0,0.49)"/>
<rect x="731.1" y="905.6" width="7.8" height="138.9" fill="rgba(0,0,0,0.49)"/>
<rect x="740" y="881.9" width="7.8" height="162.6" fill="rgba(98,99,116,0.52)"/>
<rect x="748.9" y="957.2" width="7.8" height="87.3" fill="rgba(98,99,116,0.52)"/>
<rect x="757.8" y="1000.8" width="7" height="43.7" fill="rgba(98,99,116,0.52)"/>
<rect x="765.8" y="988.9" width="7.8" height="55.6" fill="rgba(0,0,0,0.49)"/>
<rect x="774.7" y="975.3" width="7.8" height="69.2" fill="rgba(98,99,116,0.52)"/>
<rect x="783.6" y="989.2" width="7.8" height="55.3" fill="rgba(98,99,116,0.52)"/>
<rect x="792.5" y="985" width="7.8" height="59.5" fill="rgba(0,0,0,0.49)"/>
<rect x="801.4" y="1011.7" width="7" height="32.8" fill="rgba(98,99,116,0.52)"/>
<rect x="809.4" y="914.4" width="7.8" height="130.1" fill="rgba(0,0,0,0.49)"/>
<rect x="818.3" y="978.9" width="7.8" height="65.6" fill="rgba(0,0,0,0.49)"/>
<rect x="827.2" y="942" width="7.8" height="102.5" fill="rgba(0,0,0,0.49)"/>
<rect x="836.1" y="924.3" width="7" height="120.2" fill="rgba(98,99,116,0.52)"/>
<rect x="844.1" y="971" width="7.8" height="73.5" fill="rgba(0,0,0,0.49)"/>
<rect x="853" y="958" width="7.8" height="86.5" fill="rgba(98,99,116,0.52)"/>
<rect x="861.9" y="980" width="7.8" height="64.5" fill="rgba(98,99,116,0.52)"/>
<rect x="870.8" y="982.1" width="7.8" height="62.4" fill="rgba(0,0,0,0.49)"/>
<rect x="879.7" y="1012.7" width="7" height="31.8" fill="rgba(98,99,116,0.52)"/>
<rect x="887.8" y="1009.8" width="7.8" height="34.7" fill="rgba(0,0,0,0.49)"/>
<rect x="896.7" y="994" width="7.8" height="50.5" fill="rgba(98,99,116,0.52)"/>
<rect x="905.6" y="1000.8" width="7.8" height="43.7" fill="rgba(98,99,116,0.52)"/>
<rect x="914.5" y="978.9" width="7" height="65.6" fill="rgba(0,0,0,0.49)"/>
<rect x="922.5" y="1007" width="7.8" height="37.5" fill="rgba(98,99,116,0.52)"/>
<rect x="931.4" y="1004.8" width="7.8" height="39.7" fill="rgba(0,0,0,0.49)"/>
<rect x="940.3" y="1031.2" width="7.8" height="13.3" fill="rgba(98,99,116,0.52)"/>
<rect x="949.2" y="1032.5" width="7.8" height="12" fill="rgba(98,99,116,0.52)"/>
<rect x="958.1" y="1011.7" width="7" height="32.8" fill="rgba(98,99,116,0.52)"/>
<rect x="966.1" y="1026.5" width="7.8" height="18" fill="rgba(0,0,0,0.49)"/>
<rect x="975" y="1008.7" width="7.8" height="35.8" fill="rgba(98,99,116,0.52)"/>
<rect x="983.9" y="1010.6" width="7.8" height="33.9" fill="rgba(0,0,0,0.49)"/>
<rect x="992.8" y="992.9" width="7" height="51.6" fill="rgba(0,0,0,0.49)"/>
<rect x="1000.8" y="1013.8" width="7.8" height="30.7" fill="rgba(98,99,116,0.52)"/>
<rect x="1009.7" y="1007" width="7.8" height="37.5" fill="rgba(98,99,116,0.52)"/>
<rect x="1018.6" y="1013.9" width="7.8" height="30.6" fill="rgba(98,99,116,0.52)"/>
<rect x="1027.5" y="1011.7" width="7" height="32.8" fill="rgba(98,99,116,0.52)"/>
<rect x="1035.5" y="995.9" width="7.9" height="48.6" fill="rgba(0,0,0,0.49)"/>
<rect x="1044.4" y="1017.6" width="7.9" height="26.9" fill="rgba(98,99,116,0.52)"/>
<rect x="1053.3" y="1026.4" width="7.9" height="18.1" fill="rgba(98,99,116,0.52)"/>
<rect x="1062.2" y="1035.5" width="7.9" height="9" fill="rgba(0,0,0,0.49)"/>
<rect x="1071.1" y="1034.3" width="7" height="10.2" fill="rgba(98,99,116,0.52)"/>
<rect x="1079.1" y="952.3" width="7.9" height="92.2" fill="rgba(98,99,116,0.52)"/>
<rect x="1088" y="1016.7" width="7.9" height="27.8" fill="rgba(98,99,116,0.52)"/>
<rect x="1096.9" y="1020.8" width="7.9" height="23.7" fill="rgba(98,99,116,0.52)"/>
<rect x="1105.8" y="976.1" width="7" height="68.4" fill="rgba(98,99,116,0.52)"/>
<rect x="1113.8" y="1005.9" width="7.9" height="38.6" fill="rgba(0,0,0,0.49)"/>
<rect x="1122.7" y="1030.6" width="7.9" height="13.9" fill="rgba(98,99,116,0.52)"/>
<rect x="1131.6" y="1028.6" width="7.9" height="15.9" fill="rgba(0,0,0,0.49)"/>
<rect x="1140.5" y="990.1" width="7.9" height="54.4" fill="rgba(98,99,116,0.52)"/>
<rect x="1149.4" y="1002.1" width="7" height="42.4" fill="rgba(98,99,116,0.52)"/>
<rect x="1157.4" y="1005.9" width="7.9" height="38.6" fill="rgba(0,0,0,0.49)"/>
<rect x="1166.3" y="1011.7" width="7.9" height="32.8" fill="rgba(0,0,0,0.49)"/>
<rect x="1175.2" y="1006.9" width="7.9" height="37.6" fill="rgba(98,99,116,0.52)"/>
<rect x="1184.1" y="1017.6" width="7" height="26.9" fill="rgba(98,99,116,0.52)"/>
<rect x="1192.1" y="1013.8" width="7.9" height="30.7" fill="rgba(98,99,116,0.52)"/>
<rect x="1201" y="1009.8" width="7.9" height="34.7" fill="rgba(0,0,0,0.49)"/>
<rect x="1209.9" y="990.1" width="7.9" height="54.4" fill="rgba(98,99,116,0.52)"/>
<rect x="1218.8" y="1017.6" width="7.9" height="26.9" fill="rgba(0,0,0,0.49)"/>
<rect x="1227.7" y="1002.9" width="7" height="41.6" fill="rgba(98,99,116,0.52)"/>
<rect x="1235.8" y="815.2" width="7.9" height="229.3" fill="rgba(98,99,116,0.52)"/>
<rect x="1244.7" y="946.1" width="7.9" height="98.4" fill="rgba(98,99,116,0.52)"/>
<rect x="1253.6" y="947.1" width="7.9" height="97.4" fill="rgba(0,0,0,0.49)"/>
<rect x="1262.5" y="991.1" width="7" height="53.4" fill="rgba(0,0,0,0.49)"/>
<rect x="12" y="585" width="2" height="1.2" fill="#5a5d68"/>
</g>
<g>
<circle cx="1274.9" cy="1031.65" r="10.9" fill="#ffffff" fill-opacity="0.92"/>
<circle cx="1274.9" cy="1031.65" r="9.55" fill="#ffffff" stroke="#a540ba" stroke-width="1.35"/>
<path d="M1277 1026.8 L1271 1031.3 L1275.2 1032.2 L1271.6 1037.2 L1279.3 1031.7 L1275.8 1030.8 Z" fill="#9c27b0"/>
<circle cx="1281.8" cy="1025" r="3.9" fill="#ffffff"/>
<circle cx="1281.8" cy="1025" r="2.6" fill="#f23645"/>
</g>
<rect x="227.6" y="173.2" width="146" height="24.4" rx="3.5" fill="#20242f" opacity="0.35" filter="url(#sh)"/>
<rect x="227.1" y="171.7" width="146.7" height="24.4" rx="3.5" fill="#5b85be"/>
<text x="235.4" y="187.2" font-size="12.6" font-weight="bold" fill="#ffffff" textLength="130" lengthAdjust="spacingAndGlyphs">0.02556 (144.29%) 2,556</text>
<text y="146.5" font-size="12.3" fill="#555863" xml:space="preserve"><tspan x="18.5" textLength="50.6" lengthAdjust="spacingAndGlyphs">Ethereum</tspan> <tspan x="74.3" textLength="3.7" lengthAdjust="spacingAndGlyphs">/</tspan> <tspan x="82.7" textLength="36.7" lengthAdjust="spacingAndGlyphs">Bitcoin</tspan> <tspan x="124.4" textLength="2.2" lengthAdjust="spacingAndGlyphs" font-weight="bold">·</tspan> <tspan x="132.1" textLength="12.6" lengthAdjust="spacingAndGlyphs">1D</tspan> <tspan x="149.5" textLength="2.2" lengthAdjust="spacingAndGlyphs" font-weight="bold">·</tspan> <tspan x="157" textLength="40.6" lengthAdjust="spacingAndGlyphs">Binance</tspan></text>
<text x="205.3" y="146.5" font-size="12.3" fill="#555863" textLength="7.6" lengthAdjust="spacingAndGlyphs">O</text>
<text x="213.3" y="146.5" font-size="12.3" fill="#94222f" textLength="41.4" lengthAdjust="spacingAndGlyphs">0.03682</text>
<text x="262.5" y="146.5" font-size="12.3" fill="#555863" textLength="7.4" lengthAdjust="spacingAndGlyphs">H</text>
<text x="270.3" y="146.5" font-size="12.3" fill="#94222f" textLength="41.4" lengthAdjust="spacingAndGlyphs">0.03694</text>
<text x="319.6" y="146.5" font-size="12.3" fill="#555863" textLength="5.2" lengthAdjust="spacingAndGlyphs">L</text>
<text x="325" y="146.5" font-size="12.3" fill="#94222f" textLength="41.4" lengthAdjust="spacingAndGlyphs">0.03543</text>
<text x="374.3" y="146.5" font-size="12.3" fill="#555863" textLength="6.6" lengthAdjust="spacingAndGlyphs">C</text>
<text x="381.3" y="146.5" font-size="12.3" fill="#94222f" textLength="41.4" lengthAdjust="spacingAndGlyphs">0.03572</text>
<text x="430.6" y="146.5" font-size="12.3" fill="#94222f" textLength="96.4" lengthAdjust="spacingAndGlyphs">−0.00110 (−2.99%)</text>
<text y="628.8" font-size="13.6" fill="#17181d" xml:space="preserve" font-style="italic" stroke="#17181d" stroke-width="0.3"><tspan x="1511.4" textLength="29.6" lengthAdjust="spacingAndGlyphs">Ideal</tspan> <tspan x="1546.4" textLength="28.1" lengthAdjust="spacingAndGlyphs">zone</tspan> <tspan x="1579.6" textLength="19.1" lengthAdjust="spacingAndGlyphs">for</tspan> <tspan x="1603.2" textLength="31.6" lengthAdjust="spacingAndGlyphs">buys.</tspan></text>
<line x1="10" y1="127.5" x2="2038" y2="127.5" stroke="#3f434f" stroke-width="1.15"/>
<line x1="1965.5" y1="27" x2="1965.5" y2="1075.5" stroke="#575b68" stroke-width="1.15"/>
<line x1="10" y1="1044.7" x2="2038" y2="1044.7" stroke="#575b68" stroke-width="1.2"/>
<g clip-path="url(#rsipane)">
<text x="1974.6" y="59.5" font-size="14.5" fill="#5a5d68" textLength="34.3" lengthAdjust="spacingAndGlyphs" stroke="#5a5d68" stroke-width="0.22">75.00</text>
<text x="1974.6" y="94.7" font-size="14.5" fill="#5a5d68" textLength="34.3" lengthAdjust="spacingAndGlyphs" stroke="#5a5d68" stroke-width="0.22">50.00</text>
<text x="1974.6" y="129.4" font-size="14.5" fill="#5a5d68" textLength="34.3" lengthAdjust="spacingAndGlyphs" stroke="#5a5d68" stroke-width="0.22">25.00</text>
</g>
<text x="1974.6" y="1041" font-size="14.5" fill="#5a5d68" textLength="48.4" lengthAdjust="spacingAndGlyphs" stroke="#5a5d68" stroke-width="0.22">0.02000</text>
<text x="1974.6" y="1005.3" font-size="14.5" fill="#5a5d68" textLength="48.4" lengthAdjust="spacingAndGlyphs" stroke="#5a5d68" stroke-width="0.22">0.02100</text>
<text x="1974.6" y="969.7" font-size="14.5" fill="#5a5d68" textLength="48.4" lengthAdjust="spacingAndGlyphs" stroke="#5a5d68" stroke-width="0.22">0.02200</text>
<text x="1974.6" y="934" font-size="14.5" fill="#5a5d68" textLength="48.4" lengthAdjust="spacingAndGlyphs" stroke="#5a5d68" stroke-width="0.22">0.02300</text>
<text x="1974.6" y="898.3" font-size="14.5" fill="#5a5d68" textLength="48.4" lengthAdjust="spacingAndGlyphs" stroke="#5a5d68" stroke-width="0.22">0.02400</text>
<text x="1974.6" y="862.7" font-size="14.5" fill="#5a5d68" textLength="48.4" lengthAdjust="spacingAndGlyphs" stroke="#5a5d68" stroke-width="0.22">0.02500</text>
<text x="1974.6" y="827" font-size="14.5" fill="#5a5d68" textLength="48.4" lengthAdjust="spacingAndGlyphs" stroke="#5a5d68" stroke-width="0.22">0.02600</text>
<text x="1974.6" y="791.3" font-size="14.5" fill="#5a5d68" textLength="48.4" lengthAdjust="spacingAndGlyphs" stroke="#5a5d68" stroke-width="0.22">0.02700</text>
<text x="1974.6" y="755.7" font-size="14.5" fill="#5a5d68" textLength="48.4" lengthAdjust="spacingAndGlyphs" stroke="#5a5d68" stroke-width="0.22">0.02800</text>
<text x="1974.6" y="720" font-size="14.5" fill="#5a5d68" textLength="48.4" lengthAdjust="spacingAndGlyphs" stroke="#5a5d68" stroke-width="0.22">0.02900</text>
<text x="1974.6" y="684.3" font-size="14.5" fill="#5a5d68" textLength="48.4" lengthAdjust="spacingAndGlyphs" stroke="#5a5d68" stroke-width="0.22">0.03000</text>
<text x="1974.6" y="648.7" font-size="14.5" fill="#5a5d68" textLength="48.4" lengthAdjust="spacingAndGlyphs" stroke="#5a5d68" stroke-width="0.22">0.03100</text>
<text x="1974.6" y="613" font-size="14.5" fill="#5a5d68" textLength="48.4" lengthAdjust="spacingAndGlyphs" stroke="#5a5d68" stroke-width="0.22">0.03200</text>
<text x="1974.6" y="577.3" font-size="14.5" fill="#5a5d68" textLength="48.4" lengthAdjust="spacingAndGlyphs" stroke="#5a5d68" stroke-width="0.22">0.03300</text>
<text x="1974.6" y="541.7" font-size="14.5" fill="#5a5d68" textLength="48.4" lengthAdjust="spacingAndGlyphs" stroke="#5a5d68" stroke-width="0.22">0.03400</text>
<text x="1974.6" y="506" font-size="14.5" fill="#5a5d68" textLength="48.4" lengthAdjust="spacingAndGlyphs" stroke="#5a5d68" stroke-width="0.22">0.03500</text>
<text x="1974.6" y="470.3" font-size="14.5" fill="#5a5d68" textLength="48.4" lengthAdjust="spacingAndGlyphs" stroke="#5a5d68" stroke-width="0.22">0.03600</text>
<text x="1974.6" y="434.7" font-size="14.5" fill="#5a5d68" textLength="48.4" lengthAdjust="spacingAndGlyphs" stroke="#5a5d68" stroke-width="0.22">0.03700</text>
<text x="1974.6" y="399" font-size="14.5" fill="#5a5d68" textLength="48.4" lengthAdjust="spacingAndGlyphs" stroke="#5a5d68" stroke-width="0.22">0.03800</text>
<text x="1974.6" y="363.3" font-size="14.5" fill="#5a5d68" textLength="48.4" lengthAdjust="spacingAndGlyphs" stroke="#5a5d68" stroke-width="0.22">0.03900</text>
<text x="1974.6" y="327.7" font-size="14.5" fill="#5a5d68" textLength="48.4" lengthAdjust="spacingAndGlyphs" stroke="#5a5d68" stroke-width="0.22">0.04000</text>
<text x="1974.6" y="292" font-size="14.5" fill="#5a5d68" textLength="48.4" lengthAdjust="spacingAndGlyphs" stroke="#5a5d68" stroke-width="0.22">0.04100</text>
<text x="1974.6" y="256.3" font-size="14.5" fill="#5a5d68" textLength="48.4" lengthAdjust="spacingAndGlyphs" stroke="#5a5d68" stroke-width="0.22">0.04200</text>
<text x="1974.6" y="220.7" font-size="14.5" fill="#5a5d68" textLength="48.4" lengthAdjust="spacingAndGlyphs" stroke="#5a5d68" stroke-width="0.22">0.04300</text>
<text x="1974.6" y="185" font-size="14.5" fill="#5a5d68" textLength="48.4" lengthAdjust="spacingAndGlyphs" stroke="#5a5d68" stroke-width="0.22">0.04400</text>
<rect x="1968.4" y="132" width="66.3" height="25.5" rx="3.5" fill="#ffffff"/>
<text x="1977.4" y="150.1" font-size="11.6" fill="#17181d" textLength="20.6" lengthAdjust="spacingAndGlyphs">BTC</text>
<rect x="1965.6" y="465.4" width="68.2" height="36.1" rx="2" fill="#444753"/>
<text x="1974.6" y="480.8" font-size="13.2" fill="#ffffff" textLength="48.4" lengthAdjust="spacingAndGlyphs" font-weight="bold">0.03572</text>
<text x="1974.6" y="496.7" font-size="13.2" fill="#e4e5ea" textLength="53" lengthAdjust="spacingAndGlyphs">13:51:42</text>
<rect x="1965.6" y="580.5" width="63.4" height="20.2" rx="2" fill="#000000"/>
<text x="1974.6" y="595.6" font-size="13.2" fill="#ffffff" textLength="48.4" lengthAdjust="spacingAndGlyphs" font-weight="bold">0.03250</text>
<rect x="1965.6" y="812.2" width="63.4" height="20.6" rx="2" fill="#801a24"/>
<text x="1974.6" y="827.6" font-size="13.2" fill="#ffffff" textLength="47.6" lengthAdjust="spacingAndGlyphs" font-weight="bold">0.02601</text>
<rect x="1965.6" y="909.4" width="63.4" height="20.6" rx="2" fill="#1c5e21"/>
<text x="1974.6" y="924.8" font-size="13.2" fill="#ffffff" textLength="47.6" lengthAdjust="spacingAndGlyphs" font-weight="bold">0.02327</text>
<text x="99.5" y="1063.7" font-size="13.1" fill="#5a5d68" text-anchor="middle" stroke="#5a5d68" stroke-width="0.22">Jun</text>
<text x="361" y="1063.7" font-size="13.1" fill="#5a5d68" text-anchor="middle" stroke="#5a5d68" stroke-width="0.22">Jul</text>
<text x="631" y="1063.7" font-size="13.1" fill="#5a5d68" text-anchor="middle" stroke="#5a5d68" stroke-width="0.22">Aug</text>
<text x="900.5" y="1063.7" font-size="13.1" fill="#5a5d68" text-anchor="middle" stroke="#5a5d68" stroke-width="0.22">Sep</text>
<text x="1161.5" y="1063.7" font-size="13.1" fill="#5a5d68" text-anchor="middle" stroke="#5a5d68" stroke-width="0.22">Oct</text>
<text x="1431.5" y="1063.7" font-size="13.1" fill="#5a5d68" text-anchor="middle" stroke="#5a5d68" stroke-width="0.22">Nov</text>
<text x="1692.5" y="1063.7" font-size="13.1" fill="#5a5d68" text-anchor="middle" stroke="#5a5d68" stroke-width="0.22">Dec</text>
<g clip-path="url(#timeclip)">
<text x="1946.6" y="1063.8" font-size="13.6" fill="#3f434f" textLength="33.6" lengthAdjust="spacingAndGlyphs" font-weight="bold">2026</text>
</g>
<text y="18.9" font-size="12.7" font-weight="bold" fill="#d6d6d6" xml:space="preserve"><tspan x="10.2" textLength="72.4" lengthAdjust="spacingAndGlyphs">CryptoMichNL</tspan> <tspan x="86.9" textLength="40.1" lengthAdjust="spacingAndGlyphs">created</tspan> <tspan x="131.3" textLength="23.4" lengthAdjust="spacingAndGlyphs">with</tspan> <tspan x="159.2" textLength="92.4" lengthAdjust="spacingAndGlyphs">TradingView.com,</tspan> <tspan x="256.3" textLength="17.5" lengthAdjust="spacingAndGlyphs">Oct</tspan> <tspan x="279.7" textLength="13.3" lengthAdjust="spacingAndGlyphs">14,</tspan> <tspan x="298.8" textLength="24.4" lengthAdjust="spacingAndGlyphs">2025</tspan> <tspan x="328.1" textLength="27.8" lengthAdjust="spacingAndGlyphs">10:08</tspan> <tspan x="360.4" textLength="21" lengthAdjust="spacingAndGlyphs">UTC</tspan></text>
<g fill="#e1e1e1">
<path d="M11.8 1097.9 H23.9 V1112.6 H17.5 V1104.1 H11.8 Z"/>
<circle cx="28.8" cy="1100.7" r="2.9"/>
<path d="M33.3 1097.9 H41.8 L36.1 1112.6 H28.7 Z"/>
</g>
<text x="48.8" y="1112.6" font-size="20.4" fill="#e1e1e1" textLength="119.6" lengthAdjust="spacingAndGlyphs" font-weight="bold">TradingView</text>
</svg>
</body></html>
